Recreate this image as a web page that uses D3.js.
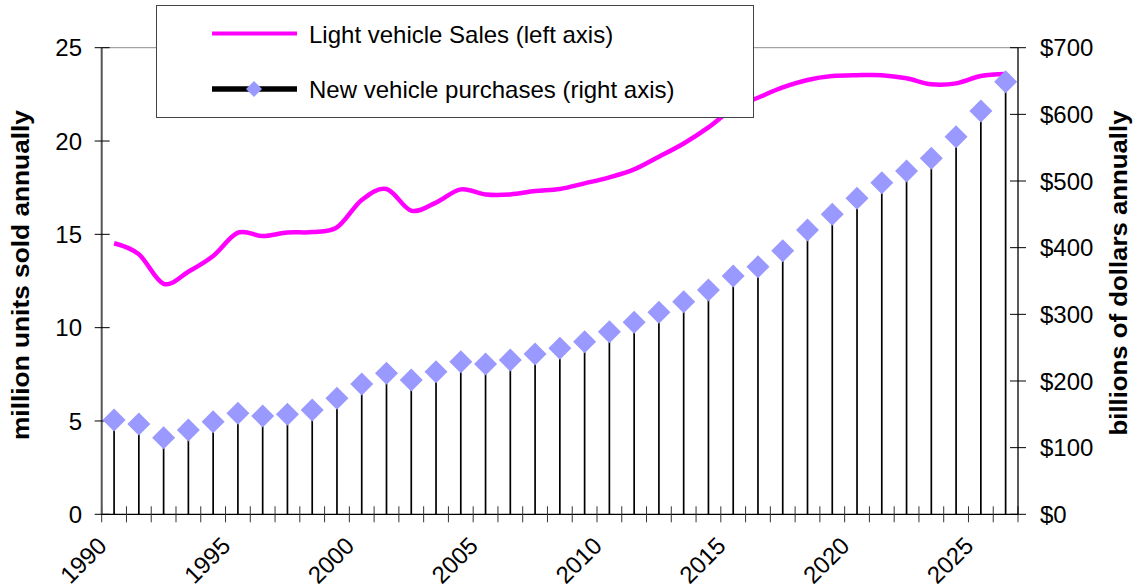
<!DOCTYPE html>
<html>
<head>
<meta charset="utf-8">
<script src="https://cdn.jsdelivr.net/npm/d3@7"></script>
<style>
  html, body { margin: 0; padding: 0; background: #fff; }
  svg { display: block; font-family: Arial, "Liberation Sans", sans-serif; }
</style>
</head>
<body>
<svg id="chart" width="1136" height="588"></svg>
<script>
const years = d3.range(1990, 2027);
const yearLabels = ["1990", "1995", "2000", "2005", "2010", "2015", "2020", "2025"];
const salesMillions = [14.52, 13.93, 12.35, 13.0, 13.84, 15.09, 14.91, 15.1, 15.12, 15.37,
  16.84, 17.43, 16.27, 16.7, 17.41, 17.14, 17.14, 17.32, 17.43, 17.73,
  18.05, 18.48, 19.16, 19.87, 20.73, 21.75, 22.32, 22.87, 23.27, 23.48,
  23.53, 23.53, 23.36, 23.04, 23.09, 23.48, 23.59];
const purchasesBillions = [141.5, 135.5, 115, 126.5, 139, 151.5, 147.5, 150, 156.5, 174,
  195.5, 211.5, 201.5, 214, 229, 225.5, 231.5, 240.5, 249, 259,
  274, 288, 303, 319, 336.5, 357.5, 371.5, 395.5, 426.5, 450,
  474, 497.5, 515, 534, 566.5, 605, 649];
const leftTicks = [0, 5, 10, 15, 20, 25];
const rightTicks = [0, 100, 200, 300, 400, 500, 600, 700];
const seriesNames = ["Light vehicle Sales (left axis)", "New vehicle purchases (right axis)"];
const leftTitle = "million units sold annually";
const rightTitle = "billions of dollars annually";

const svg = d3.select("#chart");
const L = 101.7, R = 1018, T = 47.7, B = 514.3;
const FS = 24;

const x = d3.scaleBand().domain(years).range([L, R]).padding(0);
const yL = d3.scaleLinear().domain([0, 25]).range([B, T]);
const yR = d3.scaleLinear().domain([0, 700]).range([B, T]);
const cx = d => x(d) + x.bandwidth() / 2;

// top border of plot area
svg.append("line").attr("x1", L).attr("x2", R).attr("y1", T).attr("y2", T)
  .attr("stroke", "#8c8c8c").attr("stroke-width", 1);

// drop lines
svg.append("g").selectAll("line").data(years).join("line")
  .attr("x1", d => cx(d)).attr("x2", d => cx(d))
  .attr("y1", (d, i) => yR(purchasesBillions[i])).attr("y2", B)
  .attr("stroke", "#000").attr("stroke-width", 1.7);

// x axis
svg.append("line").attr("x1", L).attr("x2", R).attr("y1", B).attr("y2", B)
  .attr("stroke", "#000").attr("stroke-width", 1.3);
const bounds = years.map(d => x(d)).concat([x.range()[1]]);
svg.append("g").selectAll("line").data(bounds).join("line")
  .attr("x1", d => d).attr("x2", d => d).attr("y1", B - 8).attr("y2", B + 8)
  .attr("stroke", "#333").attr("stroke-width", 1);
svg.append("g").selectAll("text").data(yearLabels).join("text")
  .attr("transform", d => `translate(${cx(+d) - 6},${B + 33}) rotate(-45)`)
  .attr("text-anchor", "end")
  .attr("font-size", FS).attr("fill", "#000")
  .text(d => d);

// left axis
svg.append("line").attr("x1", L).attr("x2", L).attr("y1", T).attr("y2", B)
  .attr("stroke", "#555").attr("stroke-width", 2);
svg.append("g").selectAll("line").data(leftTicks).join("line")
  .attr("x1", L - 7).attr("x2", L + 8).attr("y1", d => yL(d)).attr("y2", d => yL(d))
  .attr("stroke", "#000").attr("stroke-width", 1);
svg.append("g").selectAll("text").data(leftTicks).join("text")
  .attr("x", 82).attr("y", d => yL(d)).attr("dy", "0.36em")
  .attr("text-anchor", "end").attr("font-size", FS).text(d => d);

// right axis
svg.append("line").attr("x1", R).attr("x2", R).attr("y1", T).attr("y2", B)
  .attr("stroke", "#000").attr("stroke-width", 1.3);
svg.append("g").selectAll("line").data(rightTicks).join("line")
  .attr("x1", R - 8).attr("x2", R + 8).attr("y1", d => yR(d)).attr("y2", d => yR(d))
  .attr("stroke", "#000").attr("stroke-width", 1);
svg.append("g").selectAll("text").data(rightTicks).join("text")
  .attr("x", 1040).attr("y", d => yR(d)).attr("dy", "0.36em")
  .attr("text-anchor", "start").attr("font-size", FS).text(d => "$" + d);

// axis titles
svg.append("text").attr("transform", `translate(29,275) rotate(-90)`)
  .attr("text-anchor", "middle").attr("font-size", 23).attr("font-weight", "bold")
  .attr("textLength", 330).attr("lengthAdjust", "spacingAndGlyphs")
  .text(leftTitle);
svg.append("text").attr("transform", `translate(1127,273) rotate(-90)`)
  .attr("text-anchor", "middle").attr("font-size", 23).attr("font-weight", "bold")
  .attr("textLength", 325).attr("lengthAdjust", "spacingAndGlyphs")
  .text(rightTitle);

// sales line
const line = d3.line().x((d, i) => cx(years[i])).y(d => yL(d)).curve(d3.curveCatmullRom.alpha(0));
svg.append("path").datum(salesMillions).attr("d", line)
  .attr("fill", "none").attr("stroke", "#ff00ff").attr("stroke-width", 4.5)
  .attr("stroke-linejoin", "round");

// diamonds
const dsz = 11.5;
svg.append("g").selectAll("path").data(years).join("path")
  .attr("d", (d, i) => {
    const px = cx(d), py = yR(purchasesBillions[i]);
    return `M${px},${py - dsz}L${px + dsz},${py}L${px},${py + dsz}L${px - dsz},${py}Z`;
  })
  .attr("fill", "#9999ff");

// legend
const lg = svg.append("g");
lg.append("rect").attr("x", 156.5).attr("y", 5.5).attr("width", 597).attr("height", 112)
  .attr("fill", "#fff").attr("stroke", "#444").attr("stroke-width", 1);
lg.append("line").attr("x1", 212).attr("x2", 297).attr("y1", 33.5).attr("y2", 33.5)
  .attr("stroke", "#ff00ff").attr("stroke-width", 4);
lg.append("line").attr("x1", 212).attr("x2", 297).attr("y1", 89).attr("y2", 89)
  .attr("stroke", "#000").attr("stroke-width", 5.5);
lg.append("path").attr("d", "M254,81L262,89L254,97L246,89Z").attr("fill", "#9999ff");
lg.selectAll("text.lt").data(seriesNames).join("text")
  .attr("x", 309).attr("y", (d, i) => i === 0 ? 42.5 : 97.5)
  .attr("font-size", FS).text(d => d);
</script>
</body>
</html>
